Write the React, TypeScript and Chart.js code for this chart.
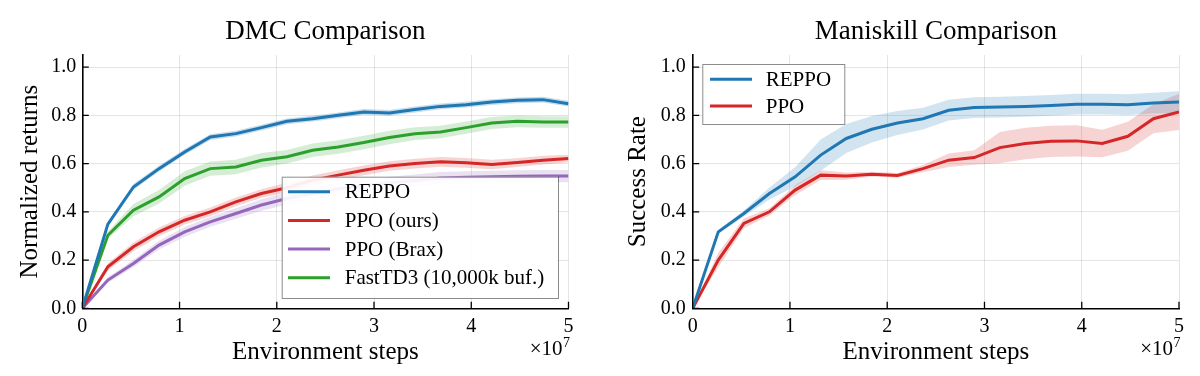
import React, { useEffect, useRef } from 'react';
import { Chart, registerables } from 'chart.js';

Chart.register(...registerables);

// Environment steps (×10^7)
const STEPS = [0, 0.263, 0.526, 0.789, 1.053, 1.316, 1.579, 1.842, 2.105, 2.368, 2.632, 2.895, 3.158, 3.421, 3.684, 3.947, 4.211, 4.474, 4.737, 5.0];
const X_TICKS = [0, 1, 2, 3, 4, 5];
const Y_TICKS = [0, 0.2, 0.4, 0.6, 0.8, 1.0];

// DMC comparison
const DMC_REPPO = [0, 0.349, 0.503, 0.579, 0.648, 0.71, 0.724, 0.749, 0.775, 0.786, 0.8, 0.814, 0.81, 0.824, 0.837, 0.844, 0.855, 0.862, 0.865, 0.848];
const DMC_PPO_OURS = [0, 0.172, 0.255, 0.317, 0.365, 0.4, 0.441, 0.476, 0.5, 0.531, 0.552, 0.572, 0.59, 0.6, 0.607, 0.603, 0.596, 0.604, 0.614, 0.621];
const DMC_PPO_BRAX = [0, 0.117, 0.186, 0.262, 0.317, 0.358, 0.393, 0.428, 0.455, 0.475, 0.495, 0.51, 0.52, 0.53, 0.54, 0.543, 0.545, 0.547, 0.548, 0.548];
const DMC_FASTTD3 = [0, 0.303, 0.407, 0.462, 0.538, 0.579, 0.586, 0.614, 0.628, 0.655, 0.669, 0.687, 0.708, 0.724, 0.731, 0.749, 0.768, 0.775, 0.772, 0.772];
const DMC_REPPO_ERR = [0, 0.01, 0.012, 0.012, 0.012, 0.012, 0.012, 0.012, 0.012, 0.012, 0.012, 0.012, 0.012, 0.012, 0.012, 0.012, 0.012, 0.012, 0.012, 0.012];
const DMC_PPO_OURS_ERR = [0, 0.015, 0.018, 0.018, 0.018, 0.018, 0.018, 0.018, 0.02, 0.02, 0.02, 0.02, 0.02, 0.02, 0.02, 0.02, 0.02, 0.018, 0.018, 0.016];
const DMC_PPO_BRAX_ERR = [0, 0.012, 0.015, 0.018, 0.02, 0.02, 0.022, 0.024, 0.025, 0.025, 0.025, 0.025, 0.025, 0.025, 0.025, 0.025, 0.025, 0.025, 0.025, 0.025];
const DMC_FASTTD3_ERR = [0, 0.015, 0.025, 0.028, 0.03, 0.03, 0.03, 0.03, 0.028, 0.028, 0.028, 0.028, 0.028, 0.026, 0.026, 0.025, 0.025, 0.024, 0.024, 0.024];

// Maniskill comparison
const MS_REPPO = [0, 0.317, 0.393, 0.476, 0.545, 0.635, 0.704, 0.742, 0.768, 0.786, 0.821, 0.832, 0.834, 0.837, 0.841, 0.846, 0.846, 0.844, 0.851, 0.855];
const MS_PPO = [0, 0.2, 0.352, 0.4, 0.49, 0.552, 0.548, 0.556, 0.551, 0.579, 0.614, 0.625, 0.666, 0.683, 0.692, 0.694, 0.683, 0.713, 0.786, 0.814];
const MS_REPPO_ERR = [0, 0.008, 0.012, 0.025, 0.04, 0.065, 0.06, 0.055, 0.05, 0.045, 0.043, 0.043, 0.043, 0.043, 0.043, 0.043, 0.043, 0.043, 0.043, 0.045];
const MS_PPO_ERR = [0, 0.03, 0.02, 0.015, 0.02, 0.02, 0.015, 0.01, 0.01, 0.015, 0.028, 0.03, 0.065, 0.065, 0.065, 0.065, 0.057, 0.06, 0.06, 0.075];

const BLUE = '#1f77b4';
const RED = '#d62728';
const PURPLE = '#9467bd';
const GREEN = '#2ca02c';

const FONT = '"Liberation Serif", "Times New Roman", serif';

type Series = { label: string; values: number[]; err: number[]; color: string; bandAlpha: number };

function hexToRgba(hex: string, a: number) {
  const n = parseInt(hex.slice(1), 16);
  return `rgba(${(n >> 16) & 255},${(n >> 8) & 255},${n & 255},${a})`;
}

function buildDatasets(series: Series[]) {
  const bands: any[] = [];
  const lines: any[] = [];
  series.forEach((s) => {
    bands.push({
      data: STEPS.map((x, i) => ({ x, y: s.values[i] - s.err[i] })),
      borderWidth: 0,
      pointRadius: 0,
      fill: false,
      order: 5,
      isBand: true,
    });
    bands.push({
      data: STEPS.map((x, i) => ({ x, y: s.values[i] + s.err[i] })),
      borderWidth: 0,
      pointRadius: 0,
      fill: '-1',
      backgroundColor: hexToRgba(s.color, s.bandAlpha),
      order: 5,
      isBand: true,
    });
    lines.push({
      label: s.label,
      data: STEPS.map((x, i) => ({ x, y: s.values[i] })),
      borderColor: s.color,
      backgroundColor: s.color,
      borderWidth: 3,
      pointRadius: 0,
      fill: false,
      tension: 0,
      order: 0,
    });
  });
  return [...bands, ...lines];
}

const decorPlugin = {
  id: 'decor',
  afterDraw(chart: any, _args: any, opts: any) {
    const { ctx, chartArea: a, scales } = chart;
    ctx.save();
    // inward tick marks
    ctx.strokeStyle = '#000';
    ctx.lineWidth = 1.3;
    ctx.beginPath();
    scales.x.ticks.forEach((t: any) => {
      const px = scales.x.getPixelForValue(t.value);
      ctx.moveTo(px, a.bottom);
      ctx.lineTo(px, a.bottom - 6.5);
    });
    scales.y.ticks.forEach((t: any) => {
      const py = scales.y.getPixelForValue(t.value);
      ctx.moveTo(a.left, py);
      ctx.lineTo(a.left + 6.5, py);
    });
    ctx.stroke();

    // title
    ctx.fillStyle = '#000';
    ctx.font = `27px ${FONT}`;
    ctx.textAlign = 'center';
    ctx.textBaseline = 'middle';
    ctx.fillText(opts.title, (a.left + a.right) / 2, 32);

    // ×10^7 multiplier
    ctx.textBaseline = 'alphabetic';
    ctx.textAlign = 'right';
    ctx.font = `14px ${FONT}`;
    const sup = '7';
    const supW = ctx.measureText(sup).width;
    ctx.fillText(sup, a.right + 1.5, 347);
    ctx.font = `21px ${FONT}`;
    ctx.fillText('×10', a.right + 1 - supW, 355);

    // legend
    const L = opts.legend;
    const items = chart.data.datasets.filter((d: any) => !d.isBand);
    ctx.fillStyle = 'rgba(255,255,255,0.92)';
    ctx.fillRect(L.x, L.y, L.w, L.h);
    ctx.strokeStyle = 'rgba(0,0,0,0.45)';
    ctx.lineWidth = 1;
    ctx.strokeRect(L.x + 0.5, L.y + 0.5, L.w, L.h);
    ctx.font = `21px ${FONT}`;
    ctx.textAlign = 'left';
    ctx.textBaseline = 'middle';
    items.forEach((d: any, i: number) => {
      const cy = L.y + L.first + i * L.rowH;
      ctx.strokeStyle = d.borderColor;
      ctx.lineWidth = 3;
      ctx.beginPath();
      ctx.moveTo(L.x + L.lineX0, cy);
      ctx.lineTo(L.x + L.lineX1, cy);
      ctx.stroke();
      ctx.fillStyle = '#000';
      ctx.fillText(d.label, L.x + L.textX, cy + 1);
    });
    ctx.restore();
  },
};

function makeConfig(series: Series[], opts: any) {
  return {
    type: 'line',
    data: { datasets: buildDatasets(series) },
    plugins: [decorPlugin],
    options: {
      responsive: false,
      animation: false,
      events: [],
      layout: { padding: { left: 0, right: opts.padRight, top: 55, bottom: 0 } },
      plugins: {
        legend: { display: false },
        title: { display: false },
        tooltip: { enabled: false },
        decor: { title: opts.title, legend: opts.legend },
      },
      scales: {
        x: {
          type: 'linear',
          min: 0,
          max: 5,
          afterFit: (s: any) => { s.height = 67.7; },
          afterBuildTicks: (s: any) => { s.ticks = X_TICKS.map((v) => ({ value: v })); },
          ticks: {
            color: '#000',
            padding: 6,
            font: { family: FONT, size: 20 },
            callback: (v: any) => String(v),
            maxRotation: 0,
          },
          grid: { color: 'rgba(0,0,0,0.1)', lineWidth: 1, drawTicks: false },
          border: { display: true, color: '#000', width: 1.6 },
          title: {
            display: true,
            text: 'Environment steps',
            color: '#000',
            font: { family: FONT, size: 25, lineHeight: 1 },
            padding: { top: 0, bottom: 11.5 },
          },
        },
        y: {
          type: 'linear',
          min: 0,
          max: 1.05,
          afterFit: (s: any) => { s.width = opts.yWidth; },
          afterBuildTicks: (s: any) => { s.ticks = Y_TICKS.map((v) => ({ value: v })); },
          ticks: {
            color: '#000',
            padding: opts.yTickPad,
            font: { family: FONT, size: 20 },
            callback: (v: any) => Number(v).toFixed(1),
          },
          grid: { color: 'rgba(0,0,0,0.1)', lineWidth: 1, drawTicks: false },
          border: { display: true, color: '#000', width: 1.6 },
          title: {
            display: true,
            text: opts.yTitle,
            color: '#000',
            font: { family: FONT, size: 25, lineHeight: 1 },
            padding: { top: opts.yTitlePad, bottom: 0 },
          },
        },
      },
    },
  };
}

function ChartCanvas({ config, left }: { config: any; left: number }) {
  const ref = useRef<HTMLCanvasElement>(null);
  useEffect(() => {
    if (!ref.current) return;
    const chart = new Chart(ref.current, config);
    return () => chart.destroy();
  }, [config]);
  return (
    <canvas
      ref={ref}
      width={600}
      height={376}
      style={{ position: 'absolute', left, top: 0, width: 600, height: 376 }}
    />
  );
}

const DMC_SERIES: Series[] = [
  { label: 'REPPO', values: DMC_REPPO, err: DMC_REPPO_ERR, color: BLUE, bandAlpha: 0.25 },
  { label: 'PPO (ours)', values: DMC_PPO_OURS, err: DMC_PPO_OURS_ERR, color: RED, bandAlpha: 0.2 },
  { label: 'PPO (Brax)', values: DMC_PPO_BRAX, err: DMC_PPO_BRAX_ERR, color: PURPLE, bandAlpha: 0.2 },
  { label: 'FastTD3 (10,000k buf.)', values: DMC_FASTTD3, err: DMC_FASTTD3_ERR, color: GREEN, bandAlpha: 0.2 },
];

const MS_SERIES: Series[] = [
  { label: 'REPPO', values: MS_REPPO, err: MS_REPPO_ERR, color: BLUE, bandAlpha: 0.2 },
  { label: 'PPO', values: MS_PPO, err: MS_PPO_ERR, color: RED, bandAlpha: 0.2 },
];

const dmcConfig = makeConfig(DMC_SERIES, {
  title: 'DMC Comparison',
  yTitle: 'Normalized returns',
  padRight: 31.5,
  yWidth: 82.3,
  yTickPad: 6,
  yTitlePad: 17.5,
  legend: { x: 281.7, y: 176.7, w: 276.3, h: 121.3, first: 15, rowH: 28.7, lineX0: 6.3, lineX1: 48.3, textX: 63 },
});

const msConfig = makeConfig(MS_SERIES, {
  title: 'Maniskill Comparison',
  yTitle: 'Success Rate',
  padRight: 21,
  yWidth: 92.7,
  yTickPad: 7,
  yTitlePad: 25.5,
  legend: { x: 102.3, y: 64, w: 142, h: 60, first: 15.3, rowH: 26.7, lineX0: 7.7, lineX1: 49.7, textX: 63.4 },
});

export default function App() {
  return (
    <div style={{ position: 'absolute', left: 0, top: 0, width: 1200, height: 376, background: '#fff', overflow: 'hidden' }}>
      <ChartCanvas config={dmcConfig} left={0} />
      <ChartCanvas config={msConfig} left={600} />
    </div>
  );
}
